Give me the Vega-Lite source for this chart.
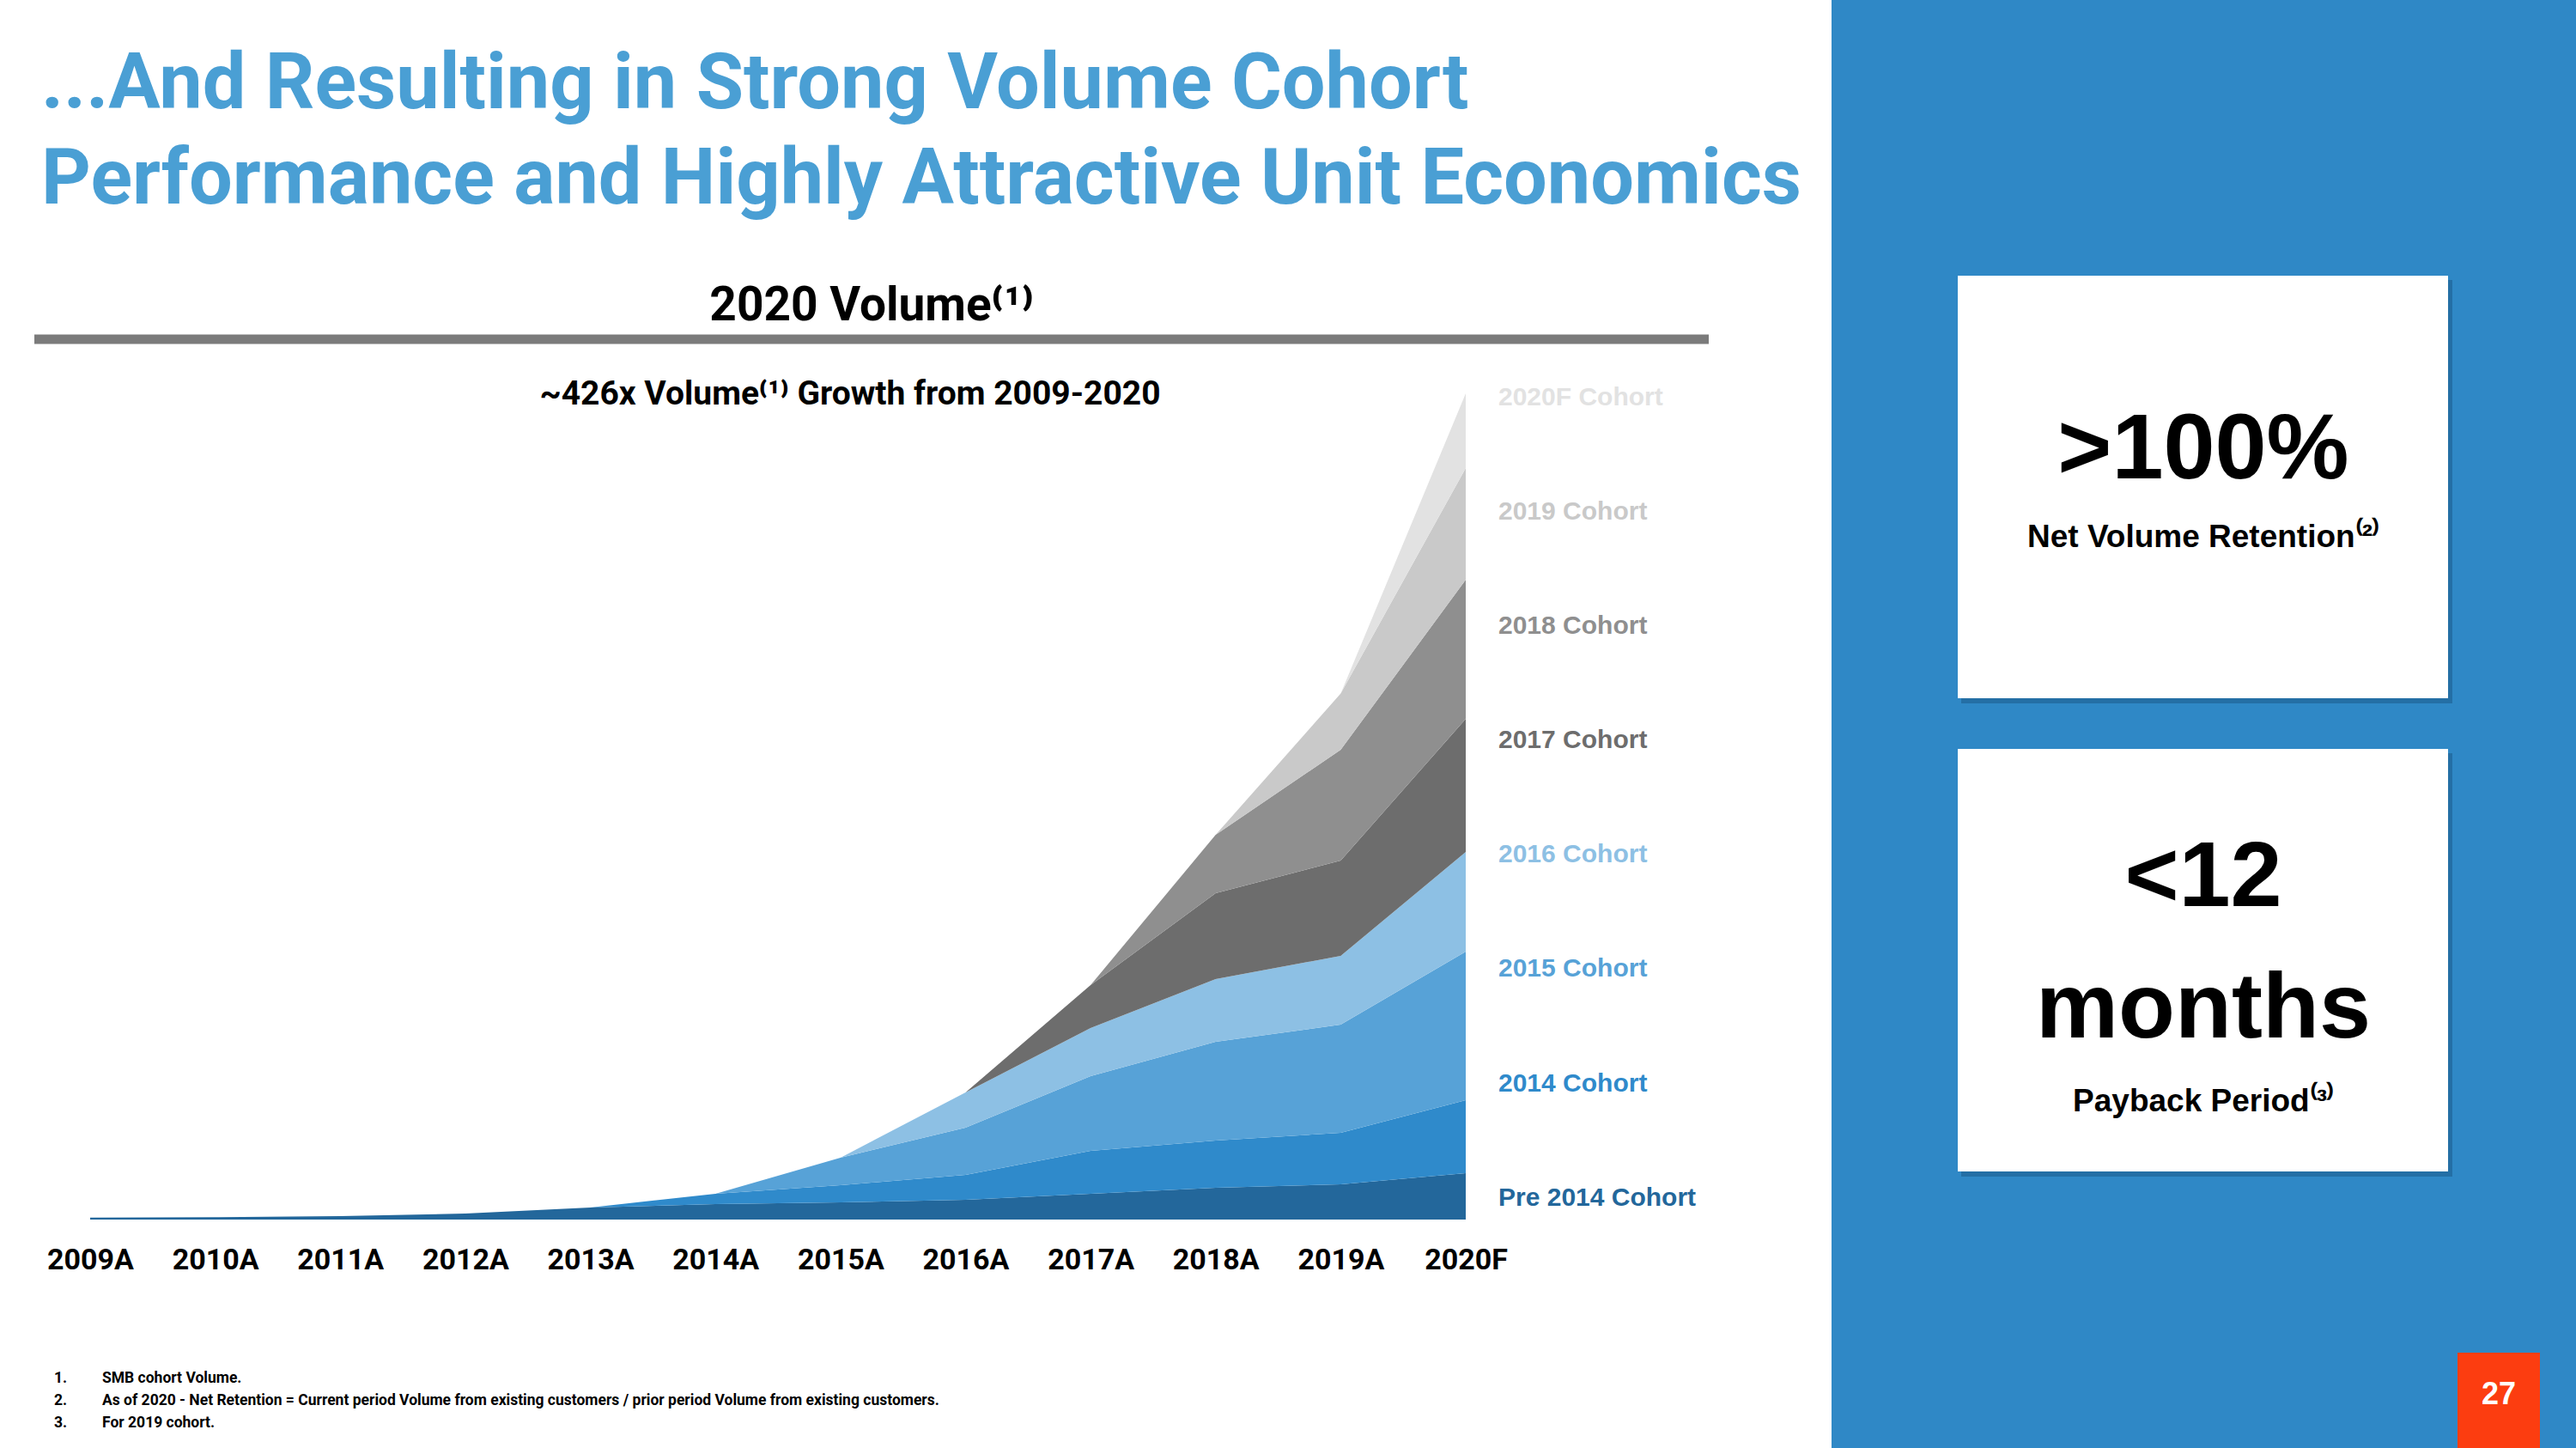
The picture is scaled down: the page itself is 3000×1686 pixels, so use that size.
{
  "$schema": "https://vega.github.io/schema/vega-lite/v6.json",
  "width": 1602,
  "height": 962,
  "autosize": {"type": "none"},
  "padding": {"left": 105, "top": 458, "right": 1293, "bottom": 266},
  "background": "#ffffff",
  "config": {
    "view": {"stroke": null},
    "axisX": {
      "labelFont": "Roboto, sans-serif",
      "labelFontSize": 34,
      "labelFontWeight": "bold",
      "labelColor": "#000000",
      "labelAngle": 0,
      "labelPadding": 47,
      "labelBaseline": "middle",
      "labelOverlap": false,
      "ticks": false,
      "tickSize": 0,
      "domain": false,
      "grid": false
    }
  },
  "data": {
    "values": [
      {"year": "2009A", "cohort": "Pre 2014 Cohort", "start": 2013, "volume": 1.0},
      {"year": "2010A", "cohort": "Pre 2014 Cohort", "start": 2013, "volume": 1.24},
      {"year": "2011A", "cohort": "Pre 2014 Cohort", "start": 2013, "volume": 1.77},
      {"year": "2012A", "cohort": "Pre 2014 Cohort", "start": 2013, "volume": 3.1},
      {"year": "2013A", "cohort": "Pre 2014 Cohort", "start": 2013, "volume": 6.2},
      {"year": "2014A", "cohort": "Pre 2014 Cohort", "start": 2013, "volume": 7.97},
      {"year": "2015A", "cohort": "Pre 2014 Cohort", "start": 2013, "volume": 8.86},
      {"year": "2016A", "cohort": "Pre 2014 Cohort", "start": 2013, "volume": 10.18},
      {"year": "2017A", "cohort": "Pre 2014 Cohort", "start": 2013, "volume": 13.28},
      {"year": "2018A", "cohort": "Pre 2014 Cohort", "start": 2013, "volume": 16.38},
      {"year": "2019A", "cohort": "Pre 2014 Cohort", "start": 2013, "volume": 18.15},
      {"year": "2020F", "cohort": "Pre 2014 Cohort", "start": 2013, "volume": 23.91},
      {"year": "2013A", "cohort": "2014 Cohort", "start": 2014, "volume": 0},
      {"year": "2014A", "cohort": "2014 Cohort", "start": 2014, "volume": 5.31},
      {"year": "2015A", "cohort": "2014 Cohort", "start": 2014, "volume": 8.86},
      {"year": "2016A", "cohort": "2014 Cohort", "start": 2014, "volume": 12.84},
      {"year": "2017A", "cohort": "2014 Cohort", "start": 2014, "volume": 22.14},
      {"year": "2018A", "cohort": "2014 Cohort", "start": 2014, "volume": 24.35},
      {"year": "2019A", "cohort": "2014 Cohort", "start": 2014, "volume": 26.57},
      {"year": "2020F", "cohort": "2014 Cohort", "start": 2014, "volume": 37.64},
      {"year": "2014A", "cohort": "2015 Cohort", "start": 2015, "volume": 0},
      {"year": "2015A", "cohort": "2015 Cohort", "start": 2015, "volume": 14.17},
      {"year": "2016A", "cohort": "2015 Cohort", "start": 2015, "volume": 24.35},
      {"year": "2017A", "cohort": "2015 Cohort", "start": 2015, "volume": 38.52},
      {"year": "2018A", "cohort": "2015 Cohort", "start": 2015, "volume": 50.92},
      {"year": "2019A", "cohort": "2015 Cohort", "start": 2015, "volume": 55.79},
      {"year": "2020F", "cohort": "2015 Cohort", "start": 2015, "volume": 76.6},
      {"year": "2015A", "cohort": "2016 Cohort", "start": 2016, "volume": 0},
      {"year": "2016A", "cohort": "2016 Cohort", "start": 2016, "volume": 18.15},
      {"year": "2017A", "cohort": "2016 Cohort", "start": 2016, "volume": 24.8},
      {"year": "2018A", "cohort": "2016 Cohort", "start": 2016, "volume": 32.32},
      {"year": "2019A", "cohort": "2016 Cohort", "start": 2016, "volume": 35.42},
      {"year": "2020F", "cohort": "2016 Cohort", "start": 2016, "volume": 51.36},
      {"year": "2016A", "cohort": "2017 Cohort", "start": 2017, "volume": 0},
      {"year": "2017A", "cohort": "2017 Cohort", "start": 2017, "volume": 22.14},
      {"year": "2018A", "cohort": "2017 Cohort", "start": 2017, "volume": 44.28},
      {"year": "2019A", "cohort": "2017 Cohort", "start": 2017, "volume": 49.15},
      {"year": "2020F", "cohort": "2017 Cohort", "start": 2017, "volume": 68.63},
      {"year": "2017A", "cohort": "2018 Cohort", "start": 2018, "volume": 0},
      {"year": "2018A", "cohort": "2018 Cohort", "start": 2018, "volume": 30.11},
      {"year": "2019A", "cohort": "2018 Cohort", "start": 2018, "volume": 57.12},
      {"year": "2020F", "cohort": "2018 Cohort", "start": 2018, "volume": 71.73},
      {"year": "2018A", "cohort": "2019 Cohort", "start": 2019, "volume": 0},
      {"year": "2019A", "cohort": "2019 Cohort", "start": 2019, "volume": 29.0},
      {"year": "2020F", "cohort": "2019 Cohort", "start": 2019, "volume": 57.56},
      {"year": "2019A", "cohort": "2020F Cohort", "start": 2020, "volume": 0},
      {"year": "2020F", "cohort": "2020F Cohort", "start": 2020, "volume": 38.52}
    ]
  },
  "layer": [
    {
      "data": {"values": [{}]},
      "mark": {"type": "rect", "color": "#2f88c6"},
      "encoding": {"x": {"value": 2028}, "x2": {"value": 2895}, "y": {"value": -458}, "y2": {"value": 1228}}
    },
    {
      "data": {"values": [{}]},
      "mark": {"type": "rect", "color": "#1b5b8a", "opacity": 0.55},
      "encoding": {"x": {"value": 2179}, "x2": {"value": 2751}, "y": {"value": -132}, "y2": {"value": 361}}
    },
    {
      "data": {"values": [{}]},
      "mark": {"type": "rect", "color": "#1b5b8a", "opacity": 0.55},
      "encoding": {"x": {"value": 2179}, "x2": {"value": 2751}, "y": {"value": 419}, "y2": {"value": 912}}
    },
    {
      "data": {"values": [{}]},
      "mark": {"type": "rect", "color": "#ffffff"},
      "encoding": {"x": {"value": 2175}, "x2": {"value": 2746}, "y": {"value": -137}, "y2": {"value": 355}}
    },
    {
      "data": {"values": [{}]},
      "mark": {"type": "rect", "color": "#ffffff"},
      "encoding": {"x": {"value": 2175}, "x2": {"value": 2746}, "y": {"value": 414}, "y2": {"value": 906}}
    },
    {
      "data": {"values": [{}]},
      "mark": {"type": "rect", "color": "#fc3d10"},
      "encoding": {"x": {"value": 2757}, "x2": {"value": 2853}, "y": {"value": 1117}, "y2": {"value": 1228}}
    },
    {
      "data": {"values": [{}]},
      "mark": {"type": "text", "align": "left", "baseline": "alphabetic", "font": "Roboto, sans-serif", "fontSize": 90, "fontWeight": "bold", "color": "#4a9fd4"},
      "encoding": {"x": {"value": -57}, "y": {"value": -332}, "text": {"value": "...And Resulting in Strong Volume Cohort"}}
    },
    {
      "data": {"values": [{}]},
      "mark": {"type": "text", "align": "left", "baseline": "alphabetic", "font": "Roboto, sans-serif", "fontSize": 90, "fontWeight": "bold", "color": "#4a9fd4"},
      "encoding": {"x": {"value": -57}, "y": {"value": -221}, "text": {"value": "Performance and Highly Attractive Unit Economics"}}
    },
    {
      "data": {"values": [{}]},
      "mark": {"type": "text", "align": "center", "baseline": "alphabetic", "font": "Roboto, sans-serif", "fontSize": 55, "fontWeight": "bold", "color": "#000000"},
      "encoding": {"x": {"value": 910}, "y": {"value": -85}, "text": {"value": "2020 Volume⁽¹⁾"}}
    },
    {
      "data": {"values": [{}]},
      "mark": {"type": "rule", "color": "#7b7b7b", "strokeWidth": 11},
      "encoding": {"x": {"value": -65}, "x2": {"value": 1885}, "y": {"value": -63}}
    },
    {
      "data": {"values": [{}]},
      "mark": {"type": "text", "align": "center", "baseline": "alphabetic", "font": "Roboto, sans-serif", "fontSize": 39, "fontWeight": "bold", "color": "#000000"},
      "encoding": {"x": {"value": 885}, "y": {"value": 13}, "text": {"value": "~426x Volume⁽¹⁾ Growth from 2009-2020"}}
    },
    {
      "data": {"values": [{}]},
      "mark": {"type": "text", "align": "left", "baseline": "middle", "font": "Roboto, sans-serif", "fontSize": 17.5, "fontWeight": "bold", "color": "#000000"},
      "encoding": {"x": {"value": -42}, "y": {"value": 1147}, "text": {"value": "1."}}
    },
    {
      "data": {"values": [{}]},
      "mark": {"type": "text", "align": "left", "baseline": "middle", "font": "Roboto, sans-serif", "fontSize": 17.5, "fontWeight": "bold", "color": "#000000"},
      "encoding": {"x": {"value": 14}, "y": {"value": 1147}, "text": {"value": "SMB cohort Volume."}}
    },
    {
      "data": {"values": [{}]},
      "mark": {"type": "text", "align": "left", "baseline": "middle", "font": "Roboto, sans-serif", "fontSize": 17.5, "fontWeight": "bold", "color": "#000000"},
      "encoding": {"x": {"value": -42}, "y": {"value": 1173}, "text": {"value": "2."}}
    },
    {
      "data": {"values": [{}]},
      "mark": {"type": "text", "align": "left", "baseline": "middle", "font": "Roboto, sans-serif", "fontSize": 17.5, "fontWeight": "bold", "color": "#000000"},
      "encoding": {"x": {"value": 14}, "y": {"value": 1173}, "text": {"value": "As of 2020 - Net Retention = Current period Volume from existing customers / prior period Volume from existing customers."}}
    },
    {
      "data": {"values": [{}]},
      "mark": {"type": "text", "align": "left", "baseline": "middle", "font": "Roboto, sans-serif", "fontSize": 17.5, "fontWeight": "bold", "color": "#000000"},
      "encoding": {"x": {"value": -42}, "y": {"value": 1199}, "text": {"value": "3."}}
    },
    {
      "data": {"values": [{}]},
      "mark": {"type": "text", "align": "left", "baseline": "middle", "font": "Roboto, sans-serif", "fontSize": 17.5, "fontWeight": "bold", "color": "#000000"},
      "encoding": {"x": {"value": 14}, "y": {"value": 1199}, "text": {"value": "For 2019 cohort."}}
    },
    {
      "data": {"values": [{}]},
      "mark": {"type": "text", "align": "center", "baseline": "alphabetic", "font": "Liberation Sans, Arial, sans-serif", "fontSize": 108, "fontWeight": "bold", "color": "#000000"},
      "encoding": {"x": {"value": 2461}, "y": {"value": 99}, "text": {"value": ">100%"}}
    },
    {
      "data": {"values": [{}]},
      "mark": {"type": "text", "align": "center", "baseline": "alphabetic", "font": "Liberation Sans, Arial, sans-serif", "fontSize": 37, "fontWeight": "bold", "color": "#000000"},
      "encoding": {"x": {"value": 2461}, "y": {"value": 179}, "text": {"value": "Net Volume Retention⁽²⁾"}}
    },
    {
      "data": {"values": [{}]},
      "mark": {"type": "text", "align": "center", "baseline": "alphabetic", "font": "Liberation Sans, Arial, sans-serif", "fontSize": 108, "fontWeight": "bold", "color": "#000000"},
      "encoding": {"x": {"value": 2461}, "y": {"value": 597}, "text": {"value": "<12"}}
    },
    {
      "data": {"values": [{}]},
      "mark": {"type": "text", "align": "center", "baseline": "alphabetic", "font": "Liberation Sans, Arial, sans-serif", "fontSize": 108, "fontWeight": "bold", "color": "#000000"},
      "encoding": {"x": {"value": 2461}, "y": {"value": 750}, "text": {"value": "months"}}
    },
    {
      "data": {"values": [{}]},
      "mark": {"type": "text", "align": "center", "baseline": "alphabetic", "font": "Liberation Sans, Arial, sans-serif", "fontSize": 37, "fontWeight": "bold", "color": "#000000"},
      "encoding": {"x": {"value": 2461}, "y": {"value": 836}, "text": {"value": "Payback Period⁽³⁾"}}
    },
    {
      "data": {"values": [{}]},
      "mark": {"type": "text", "align": "center", "baseline": "alphabetic", "font": "Liberation Sans, Arial, sans-serif", "fontSize": 36, "fontWeight": "bold", "color": "#ffffff"},
      "encoding": {"x": {"value": 2805}, "y": {"value": 1177}, "text": {"value": "27"}}
    },
    {
      "mark": {"type": "area", "interpolate": "linear"},
      "encoding": {
        "x": {
          "field": "year",
          "type": "ordinal",
          "scale": {"type": "point", "padding": 0, "domain": ["2009A", "2010A", "2011A", "2012A", "2013A", "2014A", "2015A", "2016A", "2017A", "2018A", "2019A", "2020F"]},
          "axis": {"title": null}
        },
        "y": {
          "field": "volume",
          "type": "quantitative",
          "stack": "zero",
          "scale": {"domain": [0, 426], "nice": false},
          "axis": null
        },
        "color": {
          "field": "cohort",
          "type": "nominal",
          "scale": {
            "domain": ["Pre 2014 Cohort", "2014 Cohort", "2015 Cohort", "2016 Cohort", "2017 Cohort", "2018 Cohort", "2019 Cohort", "2020F Cohort"],
            "range": ["#23679b", "#2f8acb", "#57a2d7", "#8dc0e4", "#6d6d6d", "#8f8f8f", "#c9c9c9", "#e2e2e2"]
          },
          "legend": null
        },
        "order": {"field": "start", "type": "quantitative", "sort": "ascending"}
      }
    },
    {
      "transform": [{"filter": "datum.year === '2020F'"}],
      "mark": {"type": "text", "align": "left", "baseline": "middle", "dx": 38, "font": "Liberation Sans, Arial, sans-serif", "fontSize": 30, "fontWeight": "bold"},
      "encoding": {
        "x": {"field": "year", "type": "ordinal", "axis": {"title": null}},
        "y": {
          "field": "cohort",
          "type": "ordinal",
          "scale": {"type": "point", "domain": ["2020F Cohort", "2019 Cohort", "2018 Cohort", "2017 Cohort", "2016 Cohort", "2015 Cohort", "2014 Cohort", "Pre 2014 Cohort"], "padding": 0.114, "align": 0.165},
          "axis": null
        },
        "text": {"field": "cohort"},
        "color": {"field": "cohort", "type": "nominal", "legend": null}
      }
    }
  ],
  "resolve": {"scale": {"y": "independent"}}
}
